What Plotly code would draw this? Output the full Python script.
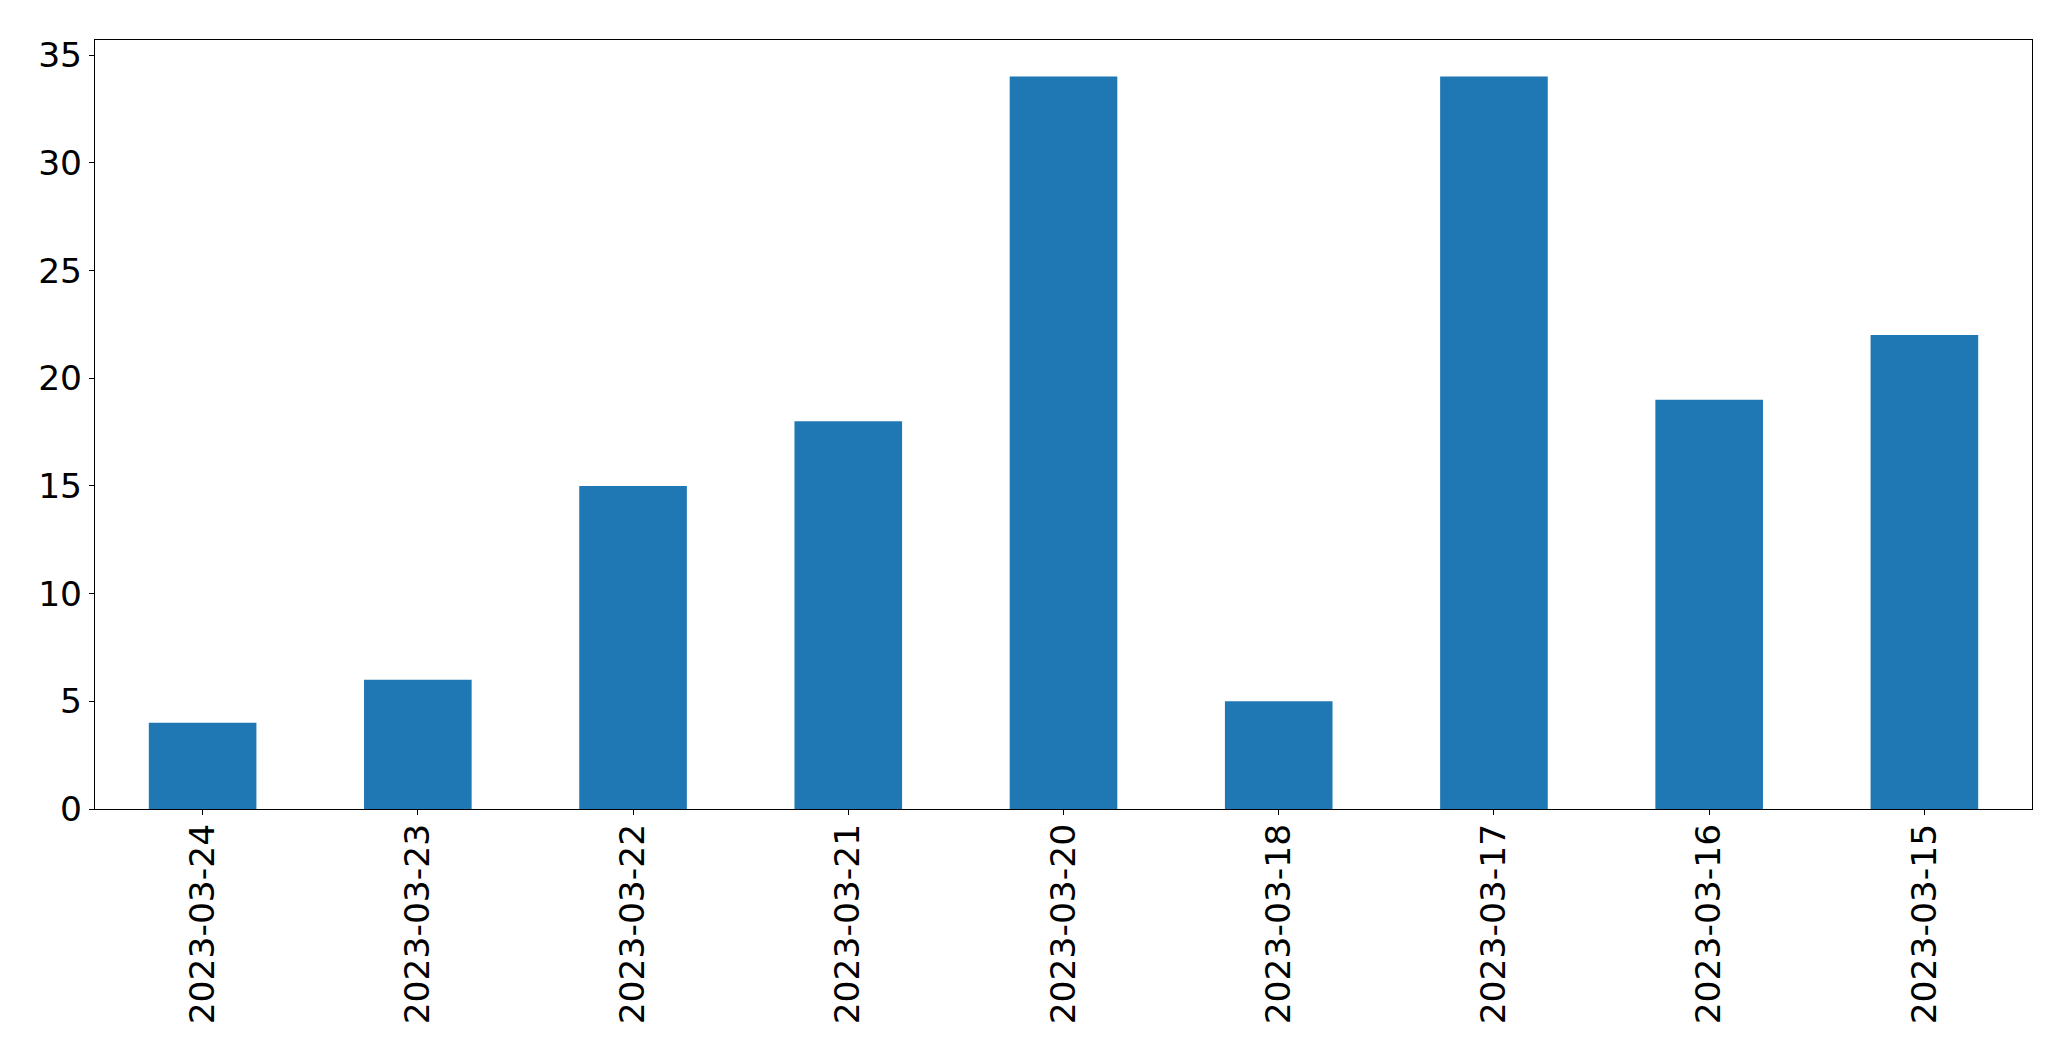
import plotly.graph_objects as go

dates = ["2023-03-24", "2023-03-23", "2023-03-22", "2023-03-21", "2023-03-20",
         "2023-03-18", "2023-03-17", "2023-03-16", "2023-03-15"]
counts = [4, 6, 15, 18, 34, 5, 34, 19, 22]
y_ticks = [0, 5, 10, 15, 20, 25, 30, 35]

fig = go.Figure(go.Bar(x=dates, y=counts, marker=dict(color="#1f77b4", line=dict(width=0))))

axis_common = dict(
    showline=True, linecolor="black", linewidth=1.1, mirror=True,
    ticks="outside", ticklen=5, tickwidth=1.1, tickcolor="black",
    showgrid=False, zeroline=False, automargin=False,
    tickfont=dict(family="DejaVu Sans", size=34.5, color="black"),
)

fig.update_layout(
    width=2063, height=1053,
    margin=dict(l=87, r=39, t=32, b=252),
    paper_bgcolor="white", plot_bgcolor="white",
    bargap=0.5,
    showlegend=False,
    xaxis=dict(type="category", tickangle=-90, range=[-0.5, 8.5],
               ticklabelstandoff=-5, **axis_common),
    yaxis=dict(range=[0, 35.7], tickvals=y_ticks, **axis_common),
)

fig.write_html("out.html")
